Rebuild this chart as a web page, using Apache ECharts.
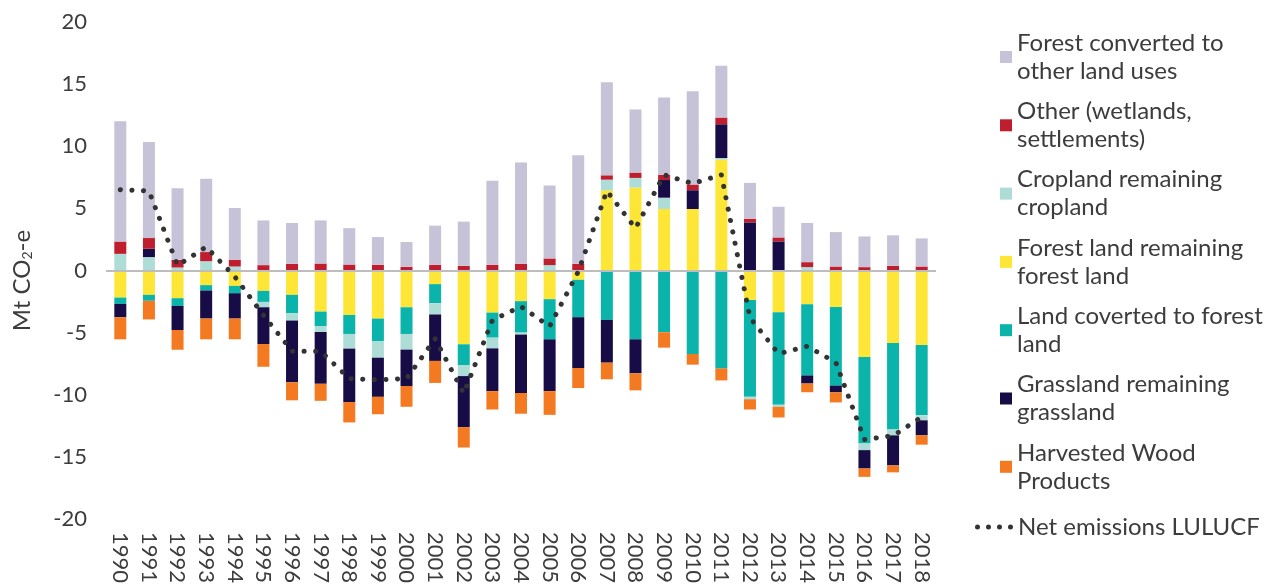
<!DOCTYPE html>
<html>
<head>
<meta charset="utf-8">
<script src="https://cdn.jsdelivr.net/npm/echarts@6/dist/echarts.min.js"></script>
<style>
  html, body { margin: 0; padding: 0; background: #ffffff; }
  #chart { width: 1288px; height: 586px; }
</style>
</head>
<body>
<div id="chart"></div>
<script>
// LULUCF emissions by sub-sector, Mt CO2-e
const years = ['1990','1991','1992','1993','1994','1995','1996','1997','1998','1999',
  '2000','2001','2002','2003','2004','2005','2006','2007','2008','2009',
  '2010','2011','2012','2013','2014','2015','2016','2017','2018'];

const forestConverted = [9.68, 7.74, 5.75, 5.91, 4.17, 3.60, 3.28, 3.47, 2.93, 2.23,
  1.99, 3.15, 3.55, 6.77, 8.15, 5.86, 8.74, 7.50, 5.08, 6.21,
  7.50, 4.17, 2.88, 2.47, 3.15, 2.77, 2.47, 2.45, 2.26];

const otherWetlands = [0.99, 0.86, 0.62, 0.73, 0.54, 0.43, 0.54, 0.56, 0.48, 0.46,
  0.30, 0.46, 0.38, 0.46, 0.54, 0.54, 0.54, 0.35, 0.43, 0.43,
  0.46, 0.54, 0.30, 0.32, 0.40, 0.32, 0.27, 0.38, 0.32];

const cropland = [1.34, 1.08, 0.24, 0.75, 0.32, -0.43, -0.59, -0.48, -1.18, -1.32,
  -1.26, -0.91, -0.89, -0.86, -0.16, 0.43, 0, 0.86, 0.78, 0.91,
  0, 0.13, -0.19, -0.16, 0.27, 0, -0.54, -0.48, -0.40];

const forestLand = [-2.18, -1.96, -2.23, -1.18, -1.24, -1.64, -1.96, -3.31, -3.58, -3.87,
  -2.96, -1.10, -5.94, -3.39, -2.47, -2.31, -0.75, 6.45, 6.67, 4.95,
  4.95, 8.92, -2.37, -3.36, -2.72, -2.93, -6.96, -5.83, -5.99];

const landToForest = [-0.51, -0.48, -0.62, -0.43, -0.59, -0.89, -1.48, -1.16, -1.53, -1.83,
  -2.15, -1.53, -1.67, -2.02, -2.53, -3.23, -3.01, -3.98, -5.54, -4.97,
  -6.72, -7.88, -7.80, -7.45, -5.73, -6.34, -6.96, -6.96, -5.67];

const grassland = [-1.08, 0.67, -1.94, -2.26, -2.04, -2.96, -4.97, -4.17, -4.30, -3.15,
  -2.93, -3.74, -4.11, -3.44, -4.70, -4.17, -4.09, -3.44, -2.74, 1.42,
  1.51, 2.72, 3.87, 2.34, -0.65, -0.54, -1.48, -2.42, -1.21];

const woodProducts = [-1.77, -1.50, -1.59, -1.67, -1.67, -1.83, -1.45, -1.37, -1.64, -1.40,
  -1.67, -1.77, -1.64, -1.48, -1.67, -1.91, -1.61, -1.34, -1.37, -1.24,
  -0.86, -0.97, -0.83, -0.86, -0.70, -0.81, -0.67, -0.56, -0.75];

const netEmissions = [6.5, 6.4, 0.4, 1.9, -0.5, -3.6, -6.5, -6.5, -8.7, -8.8,
  -8.7, -5.5, -9.9, -4.0, -2.9, -4.5, -0.1, 6.4, 3.4, 7.7,
  7.0, 7.7, -3.8, -6.7, -6.1, -7.4, -13.6, -13.3, -11.8];

const yTicks = [-20, -15, -10, -5, 0, 5, 10, 15, 20];

const FONT = 'Lato, "Noto Sans", sans-serif';
const TEXT_COLOR = '#3c3c3c';

// Stack order (from zero outward) follows the series order below
const barDefs = [
  { name: 'Forest land remaining forest land', label: 'Forest land remaining\nforest land', color: '#fde636', data: forestLand },
  { name: 'Land coverted to forest land', label: 'Land coverted to forest\nland', color: '#0bb4ab', data: landToForest },
  { name: 'Cropland remaining cropland', label: 'Cropland remaining\ncropland', color: '#aedcd7', data: cropland },
  { name: 'Grassland remaining grassland', label: 'Grassland remaining\ngrassland', color: '#170c46', data: grassland },
  { name: 'Other (wetlands, settlements)', label: 'Other (wetlands,\nsettlements)', color: '#be1e2d', data: otherWetlands },
  { name: 'Forest converted to other land uses', label: 'Forest converted to\nother land uses', color: '#c6c3d8', data: forestConverted },
  { name: 'Harvested Wood Products', label: 'Harvested Wood\nProducts', color: '#f47a22', data: woodProducts }
];

const legendOrder = [
  'Forest converted to other land uses',
  'Other (wetlands, settlements)',
  'Cropland remaining cropland',
  'Forest land remaining forest land',
  'Land coverted to forest land',
  'Grassland remaining grassland',
  'Harvested Wood Products'
];
const labelOf = {};
barDefs.forEach(d => { labelOf[d.name] = d.label; });

const series = barDefs.map((d, i) => {
  const s = {
    name: d.name,
    type: 'bar',
    stack: 'total',
    barWidth: 12,
    itemStyle: { color: d.color },
    emphasis: { disabled: true },
    data: d.data
  };
  if (i === 0) {
    s.markLine = {
      silent: true,
      symbol: 'none',
      label: { show: false },
      lineStyle: { color: '#bdbdbd', width: 2, type: 'solid' },
      data: [{ yAxis: 0 }]
    };
  }
  return s;
});

series.push({
  name: 'Net emissions LULUCF',
  type: 'line',
  data: netEmissions,
  symbol: 'none',
  z: 10,
  lineStyle: { color: '#333333', width: 5, type: [0.1, 11.5], cap: 'round', join: 'round' },
  emphasis: { disabled: true }
});

const chart = echarts.init(document.getElementById('chart'), null, { renderer: 'canvas' });

chart.setOption({
  animation: false,
  backgroundColor: '#ffffff',
  grid: { left: 106, right: 352, top: 22, bottom: 67 },
  xAxis: {
    type: 'category',
    data: years,
    axisLine: { show: false },
    axisTick: { show: false },
    axisLabel: {
      interval: 0,
      rotate: -90,
      margin: 13,
      fontSize: 22,
      fontFamily: FONT,
      color: TEXT_COLOR
    }
  },
  yAxis: {
    type: 'value',
    min: yTicks[0],
    max: yTicks[yTicks.length - 1],
    interval: 5,
    name: 'Mt CO{s|2}-e',
    nameLocation: 'middle',
    nameRotate: 90,
    nameGap: 72,
    nameTextStyle: {
      fontSize: 24,
      fontFamily: FONT,
      color: TEXT_COLOR,
      padding: [0, 20, 0, 0],
      rich: { s: { fontSize: 14, fontFamily: FONT, color: TEXT_COLOR, padding: [10, 0, 0, 0] } }
    },
    axisLine: { show: false },
    axisTick: { show: false },
    splitLine: { show: false },
    axisLabel: {
      margin: 19,
      fontSize: 22,
      fontFamily: FONT,
      color: TEXT_COLOR
    }
  },
  legend: [
    {
      orient: 'vertical',
      left: 995,
      top: 10,
      itemWidth: 12,
      itemHeight: 12,
      itemGap: -15.7,
      icon: 'rect',
      selectedMode: false,
      data: legendOrder.map(n => ({
        name: n,
        textStyle: { padding: [28, 0, 0, 0] }
      })),
      formatter: n => labelOf[n],
      textStyle: { fontSize: 24, lineHeight: 28, fontFamily: FONT, color: TEXT_COLOR }
    },
    {
      orient: 'vertical',
      left: 970,
      top: 508,
      itemWidth: 38,
      itemHeight: 5,
      selectedMode: false,
      data: [{
        name: 'Net emissions LULUCF',
        icon: 'path://M2.5,0A2.5,2.5,0,1,1,2.5,5A2.5,2.5,0,1,1,2.5,0ZM13.5,0A2.5,2.5,0,1,1,13.5,5A2.5,2.5,0,1,1,13.5,0ZM24.5,0A2.5,2.5,0,1,1,24.5,5A2.5,2.5,0,1,1,24.5,0ZM35.5,0A2.5,2.5,0,1,1,35.5,5A2.5,2.5,0,1,1,35.5,0Z',
        itemStyle: { color: '#333333' }
      }],
      textStyle: { fontSize: 24, lineHeight: 28, fontFamily: FONT, color: TEXT_COLOR }
    }
  ],
  series: series
});
</script>
</body>
</html>
